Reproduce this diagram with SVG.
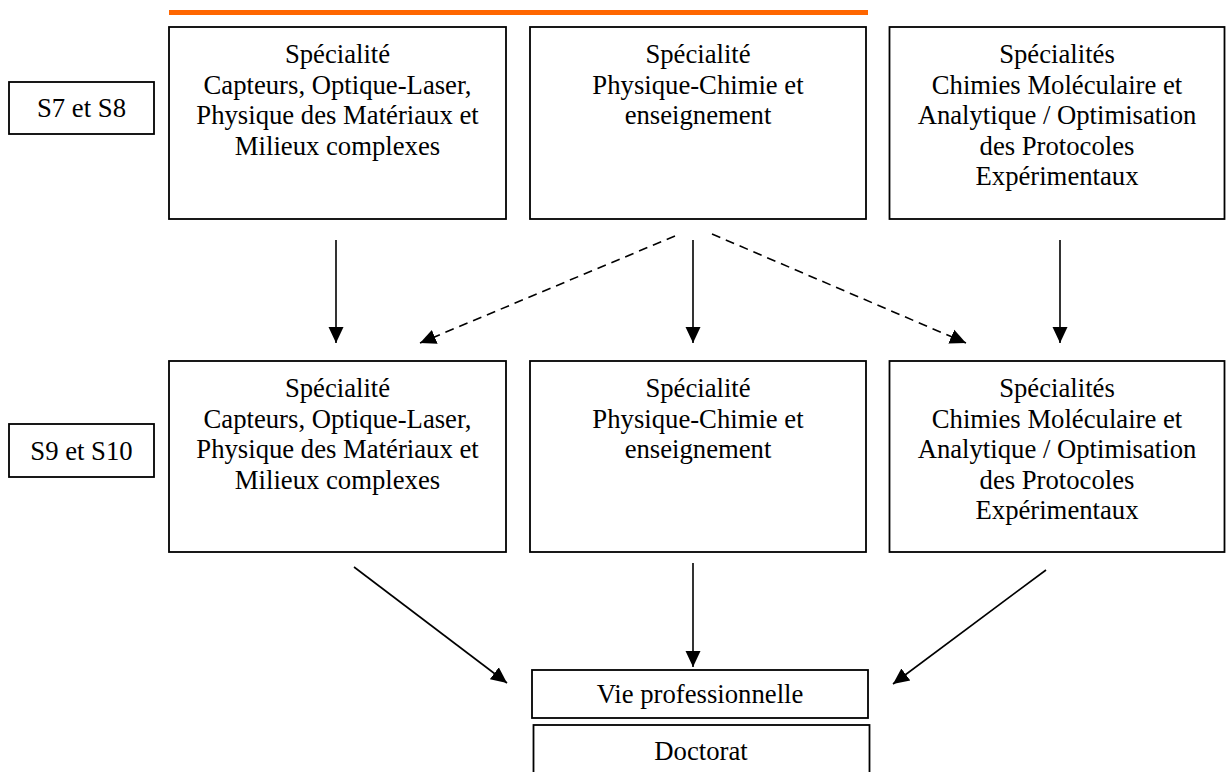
<svg xmlns="http://www.w3.org/2000/svg" width="1226" height="772" viewBox="0 0 1226 772">
<style>
.box{fill:#fff;stroke:#000;stroke-width:1.8}
.t{font-family:'Liberation Serif','Times New Roman',Times,'DejaVu Serif',serif;font-size:26.7px;fill:#000;text-anchor:middle}
.c{stroke:#000;stroke-width:1.6;fill:none}
.d{stroke-dasharray:9 6}
</style>
<defs>
<marker id="ah" markerUnits="userSpaceOnUse" markerWidth="17" markerHeight="17" viewBox="0 0 17 17" refX="16" refY="8.5" orient="auto">
<path d="M0,1 L16,8.5 L0,16 Z" fill="#000"/>
</marker>
</defs>
<rect x="0" y="0" width="1226" height="772" fill="#fff"/>
<line x1="169" y1="12.5" x2="868" y2="12.5" stroke="#FF6600" stroke-width="5"/>

<g id="s7s8"><rect class="box" x="9" y="82" width="145" height="52"/><text class="t" font-family="Liberation Serif, serif" x="81.5" y="117">S7 et S8</text></g>
<g id="s9s10"><rect class="box" x="9" y="424" width="145" height="53"/><text class="t" x="81.5" y="460">S9 et S10</text></g>

<g id="r1a"><rect class="box" x="169" y="27" width="337" height="192"/>
<text class="t" x="337.5" y="63">Spécialité</text><text class="t" x="337.5" y="93.5">Capteurs, Optique-Laser,</text><text class="t" x="337.5" y="124">Physique des Matériaux et</text><text class="t" x="337.5" y="154.5">Milieux complexes</text></g>
<g id="r1b"><rect class="box" x="530" y="27" width="336" height="192"/>
<text class="t" x="698" y="63">Spécialité</text><text class="t" x="698" y="93.5">Physique-Chimie et</text><text class="t" x="698" y="124">enseignement</text></g>
<g id="r1c"><rect class="box" x="889.5" y="27" width="335" height="192"/>
<text class="t" x="1057" y="63">Spécialités</text><text class="t" x="1057" y="93.5">Chimies Moléculaire et</text><text class="t" x="1057" y="124">Analytique / Optimisation</text><text class="t" x="1057" y="154.5">des Protocoles</text><text class="t" x="1057" y="185">Expérimentaux</text></g>

<g id="r2a"><rect class="box" x="169" y="361" width="337" height="191"/>
<text class="t" x="337.5" y="397">Spécialité</text><text class="t" x="337.5" y="427.5">Capteurs, Optique-Laser,</text><text class="t" x="337.5" y="458">Physique des Matériaux et</text><text class="t" x="337.5" y="488.5">Milieux complexes</text></g>
<g id="r2b"><rect class="box" x="530" y="361" width="336" height="191"/>
<text class="t" x="698" y="397">Spécialité</text><text class="t" x="698" y="427.5">Physique-Chimie et</text><text class="t" x="698" y="458">enseignement</text></g>
<g id="r2c"><rect class="box" x="889.5" y="361" width="335" height="191"/>
<text class="t" x="1057" y="397">Spécialités</text><text class="t" x="1057" y="427.5">Chimies Moléculaire et</text><text class="t" x="1057" y="458">Analytique / Optimisation</text><text class="t" x="1057" y="488.5">des Protocoles</text><text class="t" x="1057" y="519">Expérimentaux</text></g>

<g id="vie"><rect class="box" x="532" y="670" width="336" height="48"/><text class="t" x="700" y="703">Vie professionnelle</text></g>
<g id="doc"><rect class="box" x="533.5" y="725" width="336" height="60"/><text class="t" x="701" y="760">Doctorat</text></g>

<g id="connectors">
<line class="c" x1="336" y1="240" x2="336" y2="343" marker-end="url(#ah)"/>
<line class="c" x1="693" y1="240" x2="693" y2="343" marker-end="url(#ah)"/>
<line class="c" x1="1060" y1="240" x2="1060" y2="343" marker-end="url(#ah)"/>
<line class="c d" x1="675" y1="236" x2="420" y2="343" marker-end="url(#ah)"/>
<line class="c d" x1="712" y1="234" x2="966" y2="343" marker-end="url(#ah)"/>
<line class="c" x1="354" y1="567" x2="507" y2="683" marker-end="url(#ah)"/>
<line class="c" x1="693" y1="563" x2="693" y2="667" marker-end="url(#ah)"/>
<line class="c" x1="1046" y1="570" x2="893" y2="684" marker-end="url(#ah)"/>
</g>
</svg>
